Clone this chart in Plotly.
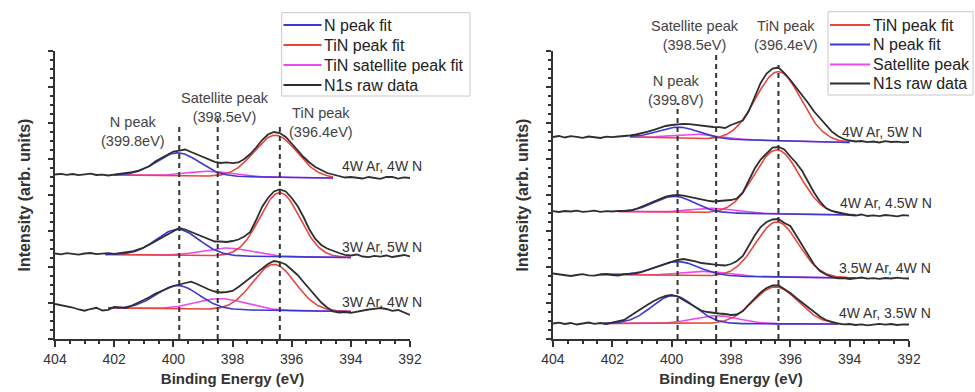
import numpy as np
import plotly.graph_objects as go

# Binding-energy grid of the recorded N1s spectra (eV)
energy = np.round(np.linspace(404.0, 392.0, 61), 1)

# N1s raw intensities (arb. units, before vertical stacking)
raw_4ar_4n = [0.5, 1.2, 0.2, 1.0, -0.2, 0.6, 1.3, 0.0, 0.4, -0.5, 0.3, 0.8, 1.5, 2.8, 4.0, 6.8,
              9.0, 13.8, 17.0, 20.8, 23.5, 24.3, 25.5, 23.0, 20.5, 17.5, 15.0, 13.2, 12.0, 12.6,
              11.8, 12.5, 16.0, 21.0, 27.5, 35.0, 40.5, 43.0, 42.0, 38.0, 31.5, 24.5, 18.0, 12.5,
              8.0, 5.0, 2.0, 0.5, -1.0, -2.5, -2.0, -2.8, -3.5, -2.0, -3.2, -3.8, -2.0, -1.8,
              -3.6, -2.4, -3.0]
raw_3ar_5n = [0.5, -0.3, 0.8, 0.2, -0.6, 0.5, 1.0, -0.2, 0.3, 0.9, 0.2, 1.0, 1.8, 2.5, 4.5, 6.5,
              9.5, 12.8, 16.5, 19.8, 23.5, 26.0, 24.5, 22.0, 19.5, 17.0, 14.5, 12.5, 12.5, 12.0,
              13.0, 14.5, 17.5, 22.0, 34.0, 47.0, 56.0, 62.5, 64.5, 62.5, 56.0, 48.0, 37.0, 24.5,
              15.0, 9.0, 5.5, 3.0, 1.0, -0.8, -1.5, -0.5, -2.5, -3.2, -1.8, -2.6, -1.5, -3.0,
              -2.0, -1.0, -2.5]
raw_3ar_4n = [4.0, 3.0, 1.5, 0.5, -1.5, -2.7, -1.0, 0.2, -2.5, -1.8, 1.0, 0.5, 0.0, 2.5, 5.0, 8.0,
              11.0, 14.5, 17.0, 19.5, 22.0, 23.5, 25.0, 26.3, 24.0, 21.0, 18.5, 16.5, 15.5, 16.0,
              17.0, 21.0, 25.5, 30.0, 35.0, 39.5, 44.0, 47.0, 46.0, 43.5, 38.0, 33.0, 26.0, 19.5,
              12.5, 5.5, 0.5, -3.5, -4.5, -4.0, -4.8, -3.5, -2.8, -1.5, -0.8, 0.0, -1.0, -2.8,
              -2.0, -4.5, -7.0]
raw_4ar_5n = [0.0, 1.0, -0.5, 0.8, 0.2, -0.8, 0.5, 0.0, -1.0, 0.3, -0.2, 0.5, 0.8, 1.5, 2.5, 3.8,
              5.3, 7.2, 9.5, 11.0, 12.0, 12.5, 13.2, 12.8, 12.0, 11.0, 10.5, 10.0, 9.8, 9.0,
              12.0, 14.5, 16.5, 26.0, 40.0, 54.0, 63.5, 68.5, 69.5, 64.0, 57.0, 49.5, 42.0, 34.0,
              25.5, 18.5, 11.5, 5.3, 1.0, -2.0, -3.5, -4.5, -4.0, -5.2, -4.5, -5.5, -4.2, -5.0,
              -4.6, -5.4, -5.0]
raw_4ar_45n = [0.3, -0.5, 0.5, 0.0, 0.8, -0.3, 0.2, 0.9, -0.4, 0.3, 0.0, 0.6, 0.4, 1.0, 2.5, 5.0,
               8.0, 10.5, 12.8, 14.8, 16.0, 16.5, 15.8, 14.5, 13.0, 11.5, 10.8, 10.0, 10.5, 11.2,
               11.5, 13.0, 19.0, 31.0, 43.0, 52.0, 58.5, 64.0, 64.5, 62.0, 55.0, 48.5, 40.5, 29.5,
               19.0, 10.0, 3.5, 0.5, -1.0, -2.5, -3.5, -4.2, -3.0, -4.5, -3.8, -4.6, -3.5, -4.2,
               -4.8, -3.6, -4.2]
raw_35ar_4n = [1.0, 0.2, -0.8, -1.5, -0.5, 0.3, -0.8, -1.2, 0.0, 0.5, -0.5, -1.0, 0.3, 0.8, 1.2, 2.5,
               4.5, 7.0, 9.0, 11.0, 13.0, 14.5, 15.5, 14.5, 13.2, 11.5, 10.5, 10.2, 9.5, 9.0,
               10.5, 13.5, 18.5, 28.5, 39.0, 47.5, 52.5, 55.0, 55.5, 51.5, 48.5, 39.0, 29.0, 19.0,
               10.0, 3.5, 0.0, -2.5, -3.8, -3.5, -4.5, -3.8, -3.0, -4.2, -3.6, -4.4, -3.5, -4.0,
               -3.2, -3.8, -4.0]
raw_4ar_35n = [0.0, 0.8, -0.5, 0.5, -1.0, 0.2, 1.0, -0.3, 0.5, -0.5, 0.8, 1.5, 3.5, 7.5, 11.5, 15.0,
               19.0, 22.5, 25.5, 27.5, 28.5, 27.0, 23.5, 19.5, 16.0, 13.0, 11.5, 10.5, 10.0, 9.5,
               8.5, 9.0, 12.5, 19.0, 25.0, 31.0, 35.5, 38.0, 38.0, 34.5, 30.5, 25.5, 21.0, 16.0,
               11.5, 7.0, 3.5, 1.5, 0.0, -0.8, -0.5, -1.5, -0.8, -1.8, -1.0, -0.3, -1.2, -0.5,
               -1.5, -0.8, -1.0]

# Spectrum order: left panel (top to bottom), then right panel (top to bottom)
sample_labels = ["4W Ar, 4W N", "3W Ar, 5W N", "3W Ar, 4W N",
                 "4W Ar, 5W N", "4W Ar, 4.5W N", "3.5W Ar, 4W N", "4W Ar, 3.5W N"]
raw_spectra = [raw_4ar_4n, raw_3ar_5n, raw_3ar_4n,
               raw_4ar_5n, raw_4ar_45n, raw_35ar_4n, raw_4ar_35n]
stack_offsets = [164, 85, 31, 202, 127.5, 64.5, 15.5]

# Peak-fit components: centre (eV), height (arb. units), FWHM (eV)
n_center = [399.85, 399.85, 399.85, 399.75, 399.9, 399.8, 399.95]
n_height = [23, 26, 23.5, 11, 16, 14, 28]
n_fwhm = [1.7, 1.7, 1.7, 1.6, 1.6, 1.7, 1.7]
sat_center = [398.8, 398.2, 398.4, 399.2, 398.6, 398.9, 398.5]
sat_height = [5, 8, 11, 4.5, 4.5, 4.5, 8]
sat_fwhm = [1.8, 1.9, 2.0, 1.8, 1.8, 1.8, 1.8]
tin_center = [396.55, 396.4, 396.6, 396.4, 396.45, 396.45, 396.5]
tin_height = [42, 64, 46, 69, 64, 55, 37]
tin_fwhm = [1.7, 1.6, 1.7, 1.8, 1.8, 1.7, 1.8]
# Fit window (eV) and linear background at its two ends
fit_start = [402.0, 402.3, 402.2, 401.4, 401.8, 402.4, 402.3]
fit_end = [394.6, 394.0, 394.0, 394.0, 393.8, 393.8, 394.4]
bg_start = [0, -0.5, 0, 0, 0, 0, 0]
bg_end = [-3, -3.5, -3.5, -5.5, -3.5, -3.5, -0.5]

# Reference peak positions (eV) marked by dashed lines
ref_peaks = [399.8, 398.5, 396.4]

BLUE = "#3a3ad2"
RED = "#e8453c"
MAGENTA = "#ee48ee"
BLACK = "#2e2e2e"
TEXT = "#333333"
FONT = "Liberation Sans, Arial, sans-serif"

# Plot-area geometry in pixels (used for the legend boxes)
FIG_W, FIG_H = 975, 392
M_L, M_R, M_T, M_B = 55, 66, 51, 53
AREA_W = FIG_W - M_L - M_R
AREA_H = FIG_H - M_T - M_B


def px_x(px):
    return (px - M_L) / AREA_W


def px_y(py):
    return (FIG_H - M_B - py) / AREA_H


def gauss(e, c, h, w):
    return h * np.exp(-4 * np.log(2) * (e - c) ** 2 / w ** 2)


fig = go.Figure()

for i, raw in enumerate(raw_spectra):
    right = i >= 3
    xa, ya = ("x2", "y2") if right else ("x", "y")
    off = stack_offsets[i]

    e_fit = np.linspace(fit_start[i], fit_end[i], 200)
    bg = bg_start[i] + (bg_end[i] - bg_start[i]) * (fit_start[i] - e_fit) / (fit_start[i] - fit_end[i])
    comps = [
        ("Satellite peak fit", gauss(e_fit, sat_center[i], sat_height[i], sat_fwhm[i]), MAGENTA),
        ("TiN peak fit", gauss(e_fit, tin_center[i], tin_height[i], tin_fwhm[i]), RED),
        ("N peak fit", gauss(e_fit, n_center[i], n_height[i], n_fwhm[i]), BLUE),
    ]
    for name, g, col in comps:
        fig.add_trace(go.Scatter(
            x=e_fit, y=off + bg + g, mode="lines", xaxis=xa, yaxis=ya,
            line=dict(color=col, width=1.6), name=name, showlegend=False, hoverinfo="skip"))
    fig.add_trace(go.Scatter(
        x=energy, y=off + np.array(raw), mode="lines", xaxis=xa, yaxis=ya,
        line=dict(color=BLACK, width=1.8), name="N1s raw data", showlegend=False))

# Dashed reference lines (top ends in stacked-intensity units)
line_tops = [[214, 221, 216], [236, 284, 274]]
shapes = []
for p, (xr, yr) in enumerate([("x", "y"), ("x2", "y2")]):
    for e0, top in zip(ref_peaks, line_tops[p]):
        shapes.append(dict(type="line", xref=xr, yref=yr, x0=e0, x1=e0, y0=0, y1=top,
                           line=dict(color="#333333", width=2, dash="5px,4px")))

annotations = []
# Sample labels to the right of each spectrum
label_x = [394.37, 394.37, 394.37, 394.33, 394.4, 394.43, 394.43]
label_lift = [9, 7, 6, 5, 8.5, 6.5, 10.5]
for i, lab in enumerate(sample_labels):
    xr, yr = ("x2", "y2") if i >= 3 else ("x", "y")
    annotations.append(dict(text=lab, x=label_x[i], y=stack_offsets[i] + label_lift[i],
                            xref=xr, yref=yr, xanchor="left", yanchor="middle", showarrow=False,
                            font=dict(family=FONT, size=14, color=TEXT)))

# Peak name labels (heights in stacked-intensity units; the axis spans 0-288)
peak_notes = [
    ("x", "N peak<br>(399.8eV)", 401.36, 208),
    ("x", "Satellite peak<br>(398.5eV)", 398.25, 231),
    ("x", "TiN peak<br>(396.4eV)", 395.0, 216.5),
    ("x2", "Satellite peak<br>(398.5eV)", 399.21, 303.2),
    ("x2", "TiN peak<br>(396.4eV)", 396.15, 303.2),
    ("x2", "N peak<br>(399.8V)", 399.85, 248.2),
]
for xr, txt, xv, yv in peak_notes:
    annotations.append(dict(text=txt, x=xv, y=yv / 288, xref=xr, yref="paper", xanchor="center",
                            yanchor="middle", showarrow=False,
                            font=dict(family=FONT, size=14.5, color="#444444")))

# Legend boxes: (box x0, x1, y0, y1 in px, line x0, x1, row y positions, entries)
legends = [
    (281.7, 470, 12.7, 96, 283.5, 321.5, [25, 45, 65, 85],
     [("N peak fit", BLUE), ("TiN peak fit", RED),
      ("TiN satellite peak fit", MAGENTA), ("N1s raw data", BLACK)]),
    (828, 973, 11.7, 95, 830, 870, [25, 44.5, 64.5, 83.5],
     [("TiN peak fit", RED), ("N peak fit", BLUE),
      ("Satellite peak", MAGENTA), ("N1s raw data", BLACK)]),
]
for bx0, bx1, by0, by1, lx0, lx1, rows, entries in legends:
    shapes.append(dict(type="rect", xref="paper", yref="paper",
                       x0=px_x(bx0), x1=px_x(bx1), y0=px_y(by1), y1=px_y(by0),
                       line=dict(color="#c8c8c8", width=1), fillcolor="rgba(255,255,255,0.92)",
                       layer="above"))
    for ry, (txt, col) in zip(rows, entries):
        shapes.append(dict(type="line", xref="paper", yref="paper",
                           x0=px_x(lx0), x1=px_x(lx1), y0=px_y(ry), y1=px_y(ry),
                           line=dict(color=col, width=2), layer="above"))
        annotations.append(dict(text=txt, x=px_x(lx1 + 0.5), y=px_y(ry), xref="paper", yref="paper",
                                xanchor="left", yanchor="middle", showarrow=False,
                                font=dict(family=FONT, size=16, color="#222222")))

xcommon = dict(range=[404, 392], tick0=392, dtick=2, ticks="outside", ticklen=6, tickwidth=1.5,
               tickcolor="#333", showline=True, linecolor="#333", linewidth=1.5, showgrid=False,
               zeroline=False, tickfont=dict(family=FONT, size=14, color=TEXT),
               minor=dict(dtick=0.5, ticks="outside", ticklen=3, tickcolor="#333"),
               title=dict(text="<b>Binding Energy (eV)</b>", standoff=8,
                          font=dict(family=FONT, size=15, color=TEXT)))
ycommon = dict(range=[0, 288], tick0=0, dtick=36, ticks="outside", ticklen=5, tickwidth=1.5,
               tickcolor="#333", showline=True, linecolor="#333", linewidth=1.5, showgrid=False,
               zeroline=False, showticklabels=False,
               minor=dict(dtick=9, ticks="outside", ticklen=3, tickcolor="#333"),
               title=dict(text="<b>Intensity (arb. units)</b>", standoff=14,
                          font=dict(family=FONT, size=16, color=TEXT)))

fig.update_layout(
    width=FIG_W, height=FIG_H, margin=dict(l=M_L, r=M_R, t=M_T, b=M_B, autoexpand=False),
    paper_bgcolor="white", plot_bgcolor="white",
    xaxis=dict(domain=[0, 0.4157], anchor="y", **xcommon),
    yaxis=dict(domain=[0, 1], anchor="x", **ycommon),
    xaxis2=dict(domain=[0.5831, 1], anchor="y2", **xcommon),
    yaxis2=dict(domain=[0, 1], anchor="x2", **ycommon),
    shapes=shapes, annotations=annotations, showlegend=False,
)

fig.write_html("out.html")
